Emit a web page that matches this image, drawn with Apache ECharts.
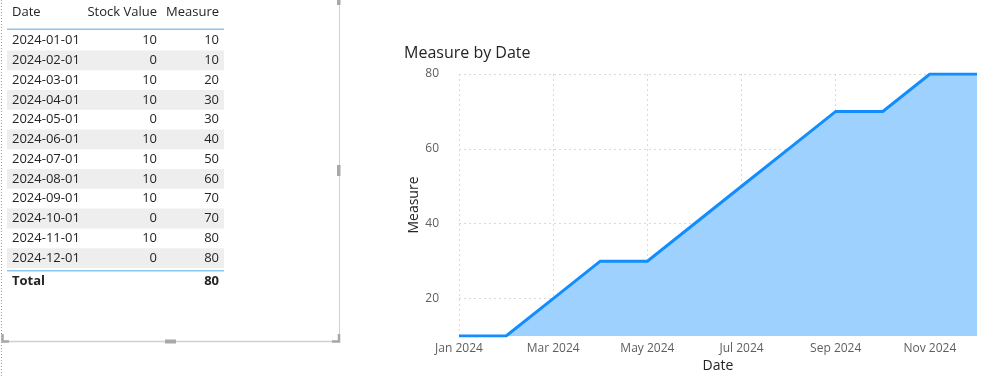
<!DOCTYPE html>
<html><head><meta charset="utf-8">
<script src="https://cdn.jsdelivr.net/npm/echarts@6/dist/echarts.min.js"></script>
<style>html,body{margin:0;padding:0;background:#fff}#c{width:998px;height:378px}</style>
</head><body><div id="c"></div><script>
const tableHeaders = ['Date', 'Stock Value', 'Measure'];
const dates = ['2024-01-01','2024-02-01','2024-03-01','2024-04-01','2024-05-01','2024-06-01','2024-07-01','2024-08-01','2024-09-01','2024-10-01','2024-11-01','2024-12-01'];
const stockValues = [10, 0, 10, 10, 0, 10, 10, 10, 10, 0, 10, 0];
const measureValues = [10, 10, 20, 30, 30, 40, 50, 60, 70, 70, 80, 80];
const totalLabel = 'Total';
const totalMeasure = 80;
const monthLabels = ['Jan 2024','Feb 2024','Mar 2024','Apr 2024','May 2024','Jun 2024','Jul 2024','Aug 2024','Sep 2024','Oct 2024','Nov 2024','Dec 2024'];
const yTickValues = [20, 40, 60, 80];

const FONT = '"Segoe UI", "Open Sans", sans-serif';
const TXT = '#252423';

// ---- table built with graphic elements ----
const g = [];
const colDateX = 12, colStockR = 157, colMeasR = 219;
const rowTop0 = 30.6, rowH = 19.78, tableL = 7, tableW = 217;
function txt(text, x, y, align, bold) {
  return { type: 'text', silent: true, style: { text: String(text), x: x, y: y, fill: TXT, fontSize: 13, fontFamily: FONT, fontWeight: bold ? 'bold' : 'normal', align: align, verticalAlign: 'middle' } };
}
// header
g.push(txt(tableHeaders[0], colDateX, 12.5, 'left'));
g.push(txt(tableHeaders[1], colStockR, 12.5, 'right'));
g.push(txt(tableHeaders[2], colMeasR, 12.5, 'right'));
g.push({ type: 'rect', silent: true, shape: { x: tableL, y: 28.6, width: tableW, height: 1.5 }, style: { fill: '#8ec6f2' } });
dates.forEach(function (d, i) {
  const top = rowTop0 + i * rowH;
  if (i % 2 === 1) g.push({ type: 'rect', silent: true, shape: { x: tableL, y: top, width: tableW, height: rowH }, style: { fill: '#eeeeee' } });
  const cy = top + rowH / 2;
  g.push(txt(d, colDateX, cy, 'left'));
  g.push(txt(stockValues[i], colStockR, cy, 'right'));
  g.push(txt(measureValues[i], colMeasR, cy, 'right'));
});
const totTop = rowTop0 + dates.length * rowH;
g.push({ type: 'rect', silent: true, shape: { x: tableL, y: totTop + 2, width: tableW, height: 1.5 }, style: { fill: '#8ec6f2' } });
g.push(txt(totalLabel, colDateX, totTop + 13, 'left', true));
g.push(txt(totalMeasure, colMeasR, totTop + 13, 'right', true));
// visual container frame
g.push({ type: 'line', silent: true, shape: { x1: 1.5, y1: 0, x2: 1.5, y2: 378 }, style: { stroke: '#9a9a9a', lineWidth: 1, lineDash: [1, 2] } });
g.push({ type: 'line', silent: true, shape: { x1: 339.5, y1: 0, x2: 339.5, y2: 341 }, style: { stroke: '#d0d0d0', lineWidth: 1 } });
g.push({ type: 'line', silent: true, shape: { x1: 2, y1: 341.5, x2: 340, y2: 341.5 }, style: { stroke: '#d0d0d0', lineWidth: 1.5 } });
g.push({ type: 'rect', silent: true, shape: { x: 165, y: 339.5, width: 11, height: 4 }, style: { fill: '#a8a8a8' } });
g.push({ type: 'rect', silent: true, shape: { x: 337, y: 165, width: 3.5, height: 11 }, style: { fill: '#a8a8a8' } });
g.push({ type: 'rect', silent: true, shape: { x: 337, y: 0, width: 3.5, height: 5 }, style: { fill: '#a8a8a8' } });
g.push({ type: 'polyline', silent: true, shape: { points: [[2.5, 334], [2.5, 341.5], [9, 341.5]] }, style: { stroke: '#a8a8a8', lineWidth: 2.5, fill: null } });
g.push({ type: 'polyline', silent: true, shape: { points: [[332, 341.5], [339, 341.5], [339, 334]] }, style: { stroke: '#a8a8a8', lineWidth: 2.5, fill: null } });

const chart = echarts.init(document.getElementById('c'), null, { renderer: 'canvas' });
chart.setOption({
  animation: false,
  backgroundColor: '#ffffff',
  title: { text: 'Measure by Date', left: 399, top: 40, textStyle: { fontFamily: FONT, fontSize: 16, fontWeight: 'normal', color: TXT } },
  grid: { left: 459, right: 21, top: 74, bottom: 41.5, containLabel: false },
  xAxis: {
    type: 'category', data: monthLabels, boundaryGap: false,
    name: 'Date', nameLocation: 'middle', nameGap: 23, nameMoveOverlap: false,
    nameTextStyle: { fontFamily: FONT, fontSize: 14, color: TXT },
    axisLine: { show: false }, axisTick: { show: false },
    axisLabel: { interval: 1, color: '#605e5c', fontFamily: FONT, fontSize: 12, margin: 7 },
    splitLine: { show: true, interval: 1, lineStyle: { type: [2, 3], color: '#d9d9d9', width: 1 } }
  },
  yAxis: {
    type: 'value', min: 10, max: 80, interval: 10,
    name: 'Measure', nameLocation: 'middle', nameGap: 38, nameRotate: 90, nameMoveOverlap: false,
    nameTextStyle: { fontFamily: FONT, fontSize: 14, color: TXT },
    axisLine: { show: false },
    axisTick: { show: false, customValues: yTickValues },
    axisLabel: { customValues: yTickValues, color: '#605e5c', fontFamily: FONT, fontSize: 12, margin: 20 },
    splitLine: { show: true, lineStyle: { type: [2, 3], color: '#d9d9d9', width: 1 } }
  },
  series: [{
    type: 'line', data: measureValues, showSymbol: false, symbol: 'none',
    lineStyle: { color: '#118dff', width: 3, join: 'miter' },
    areaStyle: { color: '#9fd1ff', opacity: 1, origin: 'start' }
  }],
  graphic: g
});
</script></body></html>
